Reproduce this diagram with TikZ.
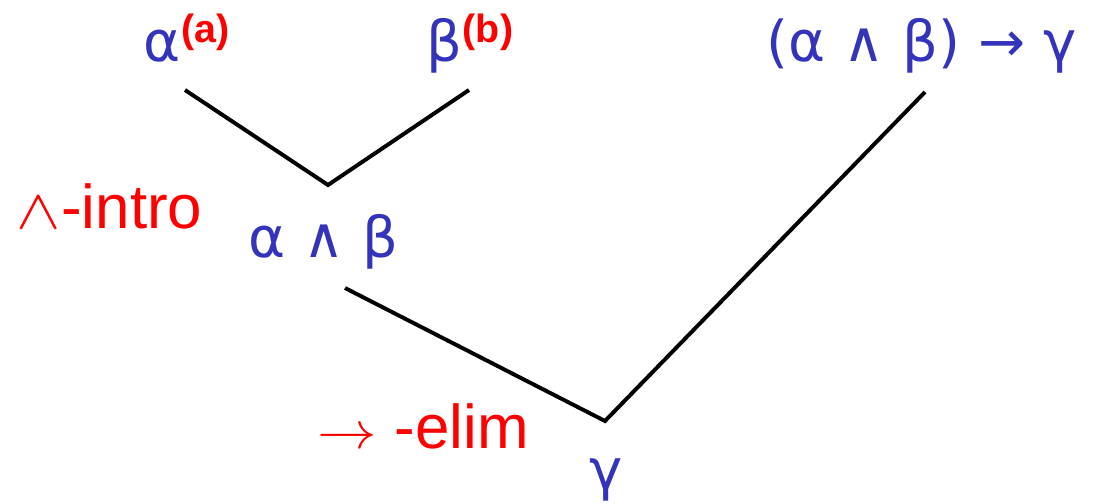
\documentclass[tikz,border=0pt]{standalone}
\usepackage{fontspec}
\setmainfont{Liberation Sans}
\newfontfamily\formfont{DejaVu Sans}
\definecolor{formblue}{HTML}{3333BB}
\definecolor{rulered}{HTML}{FF0000}
\newcommand{\hyplabel}[1]{\raisebox{14pt}{\normalfont\fontsize{28}{30}\selectfont\bfseries\textcolor{rulered}{(#1)}}}
\newcommand{\thinand}{\scalebox{1.9}[1.6]{\fontsize{24}{26}\selectfont$\wedge$}}
\newcommand{\thinto}{\scalebox{1.7}[1.5]{\fontsize{24}{26}\selectfont$\rightarrow$}}

\begin{document}
\begin{tikzpicture}[x=0.025cm, y=-0.025cm, line width=2.8pt,
  formula/.style={text=formblue, font=\formfont\fontsize{40}{44}\selectfont, inner sep=0pt, anchor=base west},
  rulename/.style={text=rulered, font=\fontsize{44}{48}\selectfont, inner sep=0pt, anchor=base west}]

\useasboundingbox (0,0) rectangle (1093,504);

% Hypotheses and premise
\node[formula] (alpha) at (142,62) {α\hyplabel{a}};
\node[formula] (beta) at (425,62) {β\hyplabel{b}};
\node[formula] (impl) at (765,62) {(α ∧ β) → γ};

% Derived formulas
\node[formula] (conj) at (247,258) {α ∧ β};
\node[formula] (gamma) at (588,489) {γ};

% Rule names
\node[rulename] (intro) at (15,229) {\thinand-intro};
\node[rulename] (elim) at (316,449) {\thinto\ -elim};

% Inference lines
\coordinate (alpha-foot) at (185,90);
\coordinate (beta-foot) at (469,90);
\coordinate (conj-apex) at (328,185);
\coordinate (conj-foot) at (345,288);
\coordinate (impl-foot) at (925,92);
\coordinate (gamma-apex) at (605,421);

\draw (alpha-foot) -- (conj-apex) -- (beta-foot);
\draw (conj-foot) -- (gamma-apex) -- (impl-foot);

\end{tikzpicture}
\end{document}
